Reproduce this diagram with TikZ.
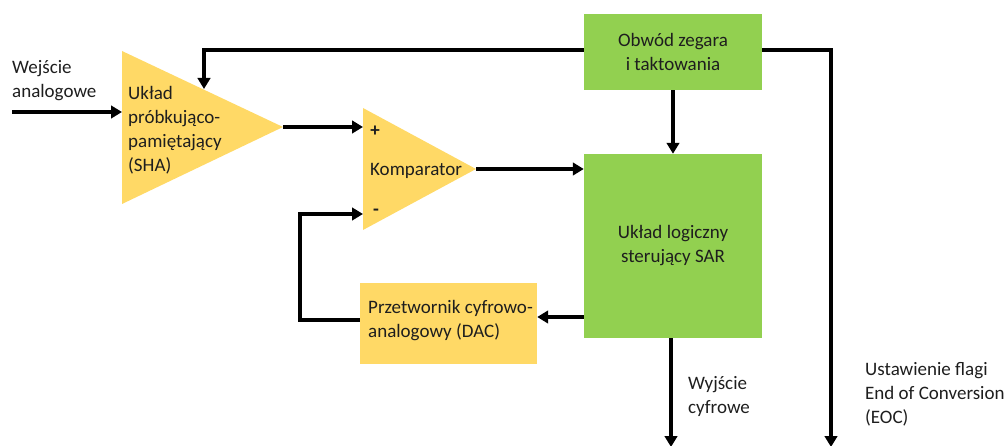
\documentclass[tikz,border=0pt]{standalone}
\usepackage{fontspec}
\setmainfont{Carlito}
\usetikzlibrary{arrows.meta}
\definecolor{ampfill}{HTML}{FFD966}
\definecolor{blockfill}{HTML}{92D050}
\definecolor{ink}{HTML}{1E1E1E}

\begin{document}
\begin{tikzpicture}[x=1pt,y=-1pt,
  every node/.style={font=\fontsize{19}{24}\selectfont, text=ink, inner sep=0pt},
  wire/.style={line width=3.6pt},
  sig/.style={wire,-{Triangle[length=11pt,width=12.5pt]}},
  greenbox/.style={fill=blockfill, align=center, minimum width=178pt},
  yellowbox/.style={fill=ampfill, minimum width=177pt, minimum height=81pt},
  lbl/.style={anchor=west, align=left}
]
\useasboundingbox (0,0) rectangle (1006,446);

% sample-and-hold amplifier (triangle)
\coordinate (shaTL) at (122,51);
\coordinate (shaBL) at (122,204);
\coordinate (shaOut) at (283,127);
\fill[ampfill] (shaTL) -- (shaOut) -- (shaBL) -- cycle;
\node[lbl] (shatxt) at (128,130) {Układ\\próbkująco-\\pamiętający\\(SHA)};
\coordinate (shaIn) at (122,112);
\coordinate (shaTop) at (204,89);

% comparator (triangle)
\coordinate (cmpTL) at (363,108);
\coordinate (cmpBL) at (363,230);
\coordinate (cmpOut) at (476,169);
\fill[ampfill] (cmpTL) -- (cmpOut) -- (cmpBL) -- cycle;
\node[lbl] (cmptxt) at (370,171) {Komparator};
\node (plus) at (375,131) {\textbf{+}};
\node (minus) at (376,212) {\textbf{-}};
\coordinate (cmpPlus) at (363,127);
\coordinate (cmpMinus) at (363,214);

% blocks
\node[greenbox, minimum height=76pt] (clk) at (673,52) {Obwód zegara\\i taktowania};
\node[greenbox, minimum height=184pt] (sar) at (673,246) {Układ logiczny\\sterujący SAR};
\node[yellowbox] (dac) at (448.5,323.5) {};
\node[lbl] (dactxt) at (368,321) {Przetwornik cyfrowo-\\analogowy (DAC)};

% free ends
\coordinate (ain) at (12,112);
\coordinate (bot) at (0,447);
\coordinate (eocx) at (831,0);
\coordinate (fbx) at (300,0);

% labels
\node[lbl] (ainlbl) at (12,81) {Wejście\\analogowe};
\node[lbl] (doutlbl) at (688,396) {Wyjście\\cyfrowe};
\node[lbl] (eoclbl) at (865,394) {Ustawienie flagi\\End of Conversion\\(EOC)};

% connectors
\draw[sig] (ain) -- (shaIn);
\draw[sig] (shaOut) -- (cmpPlus);
\draw[sig] (cmpOut) -- (cmpOut -| sar.west);
\draw[sig] (clk.west |- 0,50) -- (shaTop |- 0,50) -- (shaTop);
\draw[sig] (clk.south) -- (sar.north);
\draw[sig] (clk.east |- 0,50) -- (eocx |- 0,50) -- (eocx |- bot);
\draw[sig] ([xshift=-2pt]sar.south) -- ([xshift=-2pt]sar.south |- bot);
\draw[sig] (sar.west |- 0,317) -- (dac.east |- 0,317);
\draw[sig] (dac.west |- 0,320) -- (fbx |- 0,320) -- (fbx |- cmpMinus) -- (cmpMinus);
\end{tikzpicture}
\end{document}
